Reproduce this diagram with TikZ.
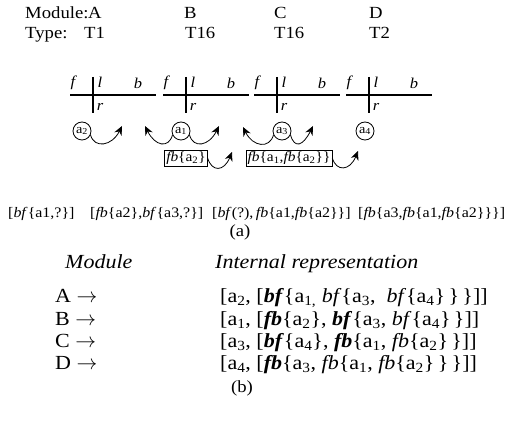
\documentclass[tikz,border=0pt]{standalone}
\usepackage{fontspec}
\setmainfont[FakeStretch=1.1]{Liberation Serif}
\usetikzlibrary{positioning, calc, arrows.meta}
\newcommand{\sbs}[1]{\textsubscript{#1}}
\newcommand{\bfit}[1]{\textbf{\textit{#1}}}
\tikzset{
    modbar/.style={line width=2.6pt},
    portlabel/.style={inner sep=0pt, font=\fontsize{15}{15}\selectfont\itshape},
    atom/.style={circle, draw, thick, minimum size=18pt, inner sep=0pt, font=\fontsize{13}{13}\selectfont},
    msgbox/.style={rectangle, draw, thick, inner sep=1.5pt, font=\fontsize{14}{14}\selectfont},
    wave/.style={-{Stealth[length=9pt,width=8pt]}, thick},
    toplabel/.style={anchor=base west, inner sep=0pt, font=\fontsize{17}{17}\selectfont},
    rowtext/.style={anchor=base west, inner sep=0pt, font=\fontsize{14.5}{14.5}\selectfont},
    reptext/.style={anchor=base west, inner sep=0pt, font=\fontsize{20}{20}\selectfont},
    caption/.style={inner sep=0pt, font=\fontsize{17}{17}\selectfont},
}
\begin{document}
\begin{tikzpicture}[x=1pt, y=-1pt]
    \useasboundingbox (0,0) rectangle (516,427);

    % Module and type row
    \node[toplabel] (hmodule) at (25,19) {Module:};
    \node[toplabel] (htype) at (25,39) {Type:};
    \foreach \name/\mx/\tx/\ty in {A/88/84/T1, B/184/185/T16, C/274/274/T16, D/369/369/T2} {
        \node[toplabel] (m\name) at (\mx,19) {\name};
        \node[toplabel] (t\name) at (\tx,39) {\ty};
    }

    % Modules: horizontal bus and vertical stub
    \foreach \name/\x in {A/93, B/186, C/277, D/369} {
        \coordinate (\name-f) at (\x-23,95);
        \coordinate (\name-b) at (\x+63,95);
        \coordinate (\name-l) at (\x,77);
        \coordinate (\name-r) at (\x,113);
        \draw[modbar] (\name-f) -- (\name-b);
        \draw[modbar] (\name-l) -- (\name-r);
        \node[portlabel] (\name-fl) at (\x-20,83) {f};
        \node[portlabel] (\name-ll) at (\x+7,82) {l};
        \node[portlabel] (\name-bl) at (\x+45,83) {b};
        \node[portlabel] (\name-rl) at (\x+7,107) {r};
    }

    % Atoms
    \node[atom] (a2) at (82,131) {a\sbs{2}};
    \node[atom] (a1) at (181,131) {a\sbs{1}};
    \node[atom] (a3) at (282,131) {a\sbs{3}};
    \node[atom] (a4) at (365,131) {a\sbs{4}};

    % Messages
    \node[msgbox] (msg1) at (186,158) {\textit{fb}\{a\sbs{2}\}};
    \node[msgbox] (msg2) at (289,158) {\textit{fb}\{a\sbs{1},\textit{fb}\{a\sbs{2}\}\}};

    % Wave tips
    \coordinate (tip2r) at (122,126);
    \coordinate (tip1l) at (145,126);
    \coordinate (tip1r) at (219,126);
    \coordinate (tip3l) at (243,127);
    \coordinate (tip3r) at (313,126);
    \coordinate (tipm1) at (232,152);
    \coordinate (tipm2) at (358,151);

    % Waves
    \draw[wave] (a2.-25) .. controls +(4,14) and +(-10,20) .. (tip2r);
    \draw[wave] (a1.-155) .. controls +(-4,14) and +(10,20) .. (tip1l);
    \draw[wave] (a1.-25) .. controls +(4,14) and +(-10,20) .. (tip1r);
    \draw[wave] (a3.-155) .. controls +(-4,14) and +(10,20) .. (tip3l);
    \draw[wave] (a3.-25) .. controls +(4,14) and +(-10,20) .. (tip3r);
    \draw[wave] (msg1.east) .. controls +(4,14) and +(-8,20) .. (tipm1);
    \draw[wave] (msg2.east) .. controls +(4,14) and +(-8,20) .. (tipm2);

    % Partial states
    \node[rowtext] (st1) at (8,218) {[\textit{bf}\{a1,?\}]};
    \node[rowtext] (st2) at (90,218) {[\textit{fb}\{a2\},\textit{bf}\{a3,?\}]};
    \node[rowtext] (st3) at (212,218) {[\textit{bf}(?),\,\textit{fb}\{a1,\textit{fb}\{a2\}\}]};
    \node[rowtext] (st4) at (358,218) {[\textit{fb}\{a3,\textit{fb}\{a1,\textit{fb}\{a2\}\}\}]};
    \node[caption] (capa) at (240,232) {(a)};

    % Internal representation table
    \node[reptext] (hmod) at (65,269) {\textit{Module}};
    \node[reptext] (hrep) at (215,269) {\textit{Internal representation}};
    \node[reptext] (rA) at (55,302) {A $\rightarrow$};
    \node[reptext] (eA) at (220,302) {[a\sbs{2}, [\bfit{bf}\{a\sbs{1,}\ \textit{bf}\{a\sbs{3}, \ \textit{bf}\{a\sbs{4}\}\,\}\,\}]]};
    \node[reptext] (rB) at (55,325) {B $\rightarrow$};
    \node[reptext] (eB) at (220,325) {[a\sbs{1}, [\bfit{fb}\{a\sbs{2}\}, \bfit{bf}\{a\sbs{3}, \textit{bf}\{a\sbs{4}\}\,\}]]};
    \node[reptext] (rC) at (55,347) {C $\rightarrow$};
    \node[reptext] (eC) at (220,347) {[a\sbs{3}, [\bfit{bf}\{a\sbs{4}\}, \bfit{fb}\{a\sbs{1}, \textit{fb}\{a\sbs{2}\}\,\}]]};
    \node[reptext] (rD) at (55,369) {D $\rightarrow$};
    \node[reptext] (eD) at (220,369) {[a\sbs{4}, [\bfit{fb}\{a\sbs{3}, \textit{fb}\{a\sbs{1}, \textit{fb}\{a\sbs{2}\}\,\}\,\}]]};
    \node[caption] (capb) at (242,388) {(b)};
\end{tikzpicture}
\end{document}
